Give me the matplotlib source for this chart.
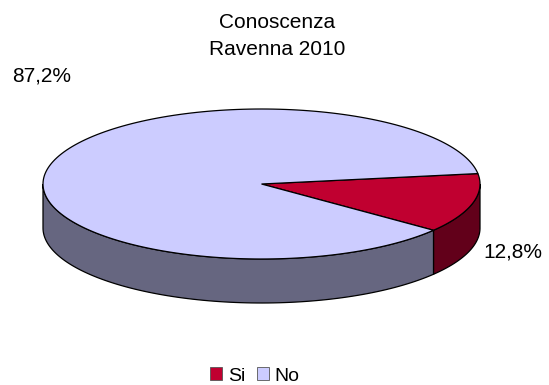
import numpy as np
import matplotlib.pyplot as plt
from matplotlib.patches import Patch

plt.rcParams['font.family'] = ['Liberation Sans', 'DejaVu Sans']

# dati
categorie = ['Si', 'No']
valori = [12.8, 87.2]
etichette = ['12,8%', '87,2%']
colori_top = ['#C00030', '#CCCCFF']
colori_lato = ['#62001A', '#666680']

# geometria della torta 3D (in pixel)
cx, cy = 261.5, 184.0
rx, ry = 218.5, 75.0
spessore = 44.0
start = 8.0


def punto(t, dy=0.0):
    r = np.radians(t)
    return cx + rx * np.cos(r), cy - ry * np.sin(r) + dy


def parte_visibile(a, b):
    # intervallo [a, b] intersecato con la metà frontale (sin <= 0)
    out = []
    for k in range(-2, 3):
        lo, hi = 180 + 360 * k, 360 + 360 * k
        s, e = max(a, lo), min(b, hi)
        if e > s:
            out.append((s, e))
    return out


fig = plt.figure(figsize=(5.49, 3.85), dpi=100)
ax = fig.add_axes([0, 0, 1, 1])
ax.set_xlim(0, 549)
ax.set_ylim(385, 0)
ax.axis('off')

tot = sum(valori)
fette = []
a1 = start
for v in valori:
    a0 = a1 - v / tot * 360
    fette.append((a0, a1))
    a1 = a0

# lati
for (a0, a1), col in zip(fette, colori_lato):
    for s, e in parte_visibile(a0, a1):
        t = np.linspace(s, e, 100)
        x, y = punto(t)
        xs = np.concatenate([x, x[::-1]])
        ys = np.concatenate([y, (y + spessore)[::-1]])
        ax.fill(xs, ys, color=col, ec='black', lw=0.9, zorder=1)

# superficie
for (a0, a1), col in zip(fette, colori_top):
    t = np.linspace(a0, a1, 200)
    x, y = punto(t)
    xs = np.concatenate([[cx], x, [cx]])
    ys = np.concatenate([[cy], y, [cy]])
    ax.fill(xs, ys, color=col, ec='black', lw=0.9, zorder=2)

# etichette
ax.text(513, 258, etichette[0], fontsize=15, ha='center', va='baseline')
ax.text(42, 82, etichette[1], fontsize=15, ha='center', va='baseline')

# titolo
ax.text(277, 28, 'Conoscenza', fontsize=15, ha='center', va='baseline')
ax.text(277, 55, 'Ravenna 2010', fontsize=15, ha='center', va='baseline')

handles = [Patch(facecolor=c, edgecolor='#555555', lw=0.6) for c in colori_top]
fig.legend(handles, categorie, loc='center', bbox_to_anchor=(255 / 549, 1 - 376 / 385),
           ncol=2, frameon=False, fontsize=14, handlelength=0.6, handleheight=0.6,
           handletextpad=0.3, columnspacing=0.6)

fig.savefig('out.png', dpi=100)
